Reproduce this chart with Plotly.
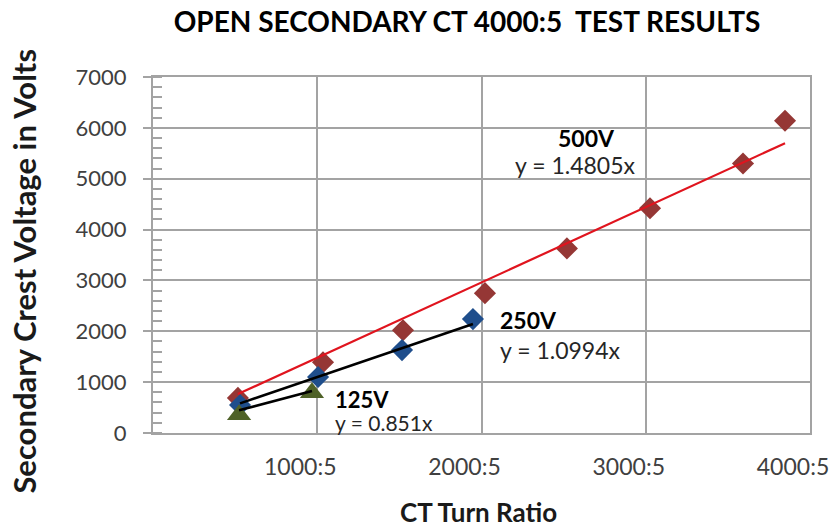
import plotly.graph_objects as go

# ---- data ----
x_500 = [517, 1035, 1522, 2021, 2520, 3026, 3592, 3848]
y_500 = [690, 1390, 2020, 2750, 3630, 4420, 5300, 6140]

x_250 = [530, 1005, 1516, 1948]
y_250 = [550, 1100, 1630, 2240]

x_125 = [524, 968]
y_125 = [360, 790]

slope_500 = 1.4805
slope_250 = 1.0994
slope_125 = 0.851

x_tick_vals = [1000, 2000, 3000, 4000]
x_tick_text = ["1000:5", "2000:5", "3000:5", "4000:5"]

series_labels = ["500V", "250V", "125V"]

RED = "#953735"
BLUE = "#1F4E8C"
GREEN = "#4F6228"
GRID = "#A3A3A3"
FONT = "Lato"

fig = go.Figure()

# markers
fig.add_trace(go.Scatter(x=x_500, y=y_500, mode="markers", name=series_labels[0],
                         marker=dict(symbol="diamond", size=17, color=RED, line=dict(width=0))))
fig.add_trace(go.Scatter(x=x_250, y=y_250, mode="markers", name=series_labels[1],
                         marker=dict(symbol="diamond", size=17, color=BLUE, line=dict(width=0))))
fig.add_trace(go.Scatter(x=x_125, y=y_125, mode="markers", name=series_labels[2],
                         marker=dict(symbol="triangle-up", size=21, color=GREEN, line=dict(width=0))))

# linear trendlines through origin
def trend(xs, k):
    xa = [min(xs), max(xs)]
    return xa, [k * v for v in xa]

tx, ty = trend(x_500, slope_500)
fig.add_trace(go.Scatter(x=tx, y=ty, mode="lines", line=dict(color="#E0141E", width=2.2)))
tx, ty = trend(x_250, slope_250)
fig.add_trace(go.Scatter(x=tx, y=ty, mode="lines", line=dict(color="black", width=2.6)))
tx, ty = trend(x_125, slope_125)
fig.add_trace(go.Scatter(x=tx, y=ty, mode="lines", line=dict(color="black", width=2.6)))

annotations = [
    dict(x=2642, y=5810, xref="x", yref="y", text="<b>" + series_labels[0] + "</b>", showarrow=False,
         xanchor="center", yanchor="middle", font=dict(family=FONT, size=23, color="black")),
    dict(x=2575, y=5270, xref="x", yref="y", text=f"y = {slope_500}x", showarrow=False,
         xanchor="center", yanchor="middle", font=dict(family=FONT, size=23, color="#262626")),
    dict(x=2098, y=2230, xref="x", yref="y", text="<b>" + series_labels[1] + "</b>", showarrow=False,
         xanchor="left", yanchor="middle", font=dict(family=FONT, size=23, color="black")),
    dict(x=2098, y=1640, xref="x", yref="y", text=f"y = {slope_250}x", showarrow=False,
         xanchor="left", yanchor="middle", font=dict(family=FONT, size=23, color="#262626")),
    dict(x=1095, y=665, xref="x", yref="y", text="<b>" + series_labels[2] + "</b>", showarrow=False,
         xanchor="left", yanchor="middle", font=dict(family=FONT, size=22, color="black")),
    dict(x=1095, y=215, xref="x", yref="y", text=f"y = {slope_125}x", showarrow=False,
         xanchor="left", yanchor="middle", font=dict(family=FONT, size=21, color="#262626")),
    # axis titles
    dict(x=0.495, y=-0.222, xref="paper", yref="paper", text="<b>CT Turn Ratio</b>", showarrow=False,
         xanchor="center", yanchor="middle", font=dict(family=FONT, size=26, color="#1a1a1a")),
    dict(x=-0.197, y=0.455, xref="paper", yref="paper", text="<b>Secondary Crest Voltage in Volts</b>",
         showarrow=False, textangle=-90, xanchor="center", yanchor="middle",
         font=dict(family=FONT, size=31, color="#1a1a1a")),
]

fig.update_layout(
    width=836, height=529,
    margin=dict(l=153, r=26, t=77, b=96),
    paper_bgcolor="white", plot_bgcolor="white",
    showlegend=False,
    title=dict(text="<b>OPEN SECONDARY CT 4000:5  TEST RESULTS</b>", x=0.478, xref="paper",
               y=1 - 22 / 529, yref="container", xanchor="center", yanchor="middle",
               font=dict(family=FONT, size=28, color="black")),
    annotations=annotations,
)

fig.update_xaxes(
    range=[0, 4000], tickvals=x_tick_vals, ticktext=x_tick_text,
    showgrid=True, gridcolor=GRID, gridwidth=2,
    showline=True, linecolor=GRID, linewidth=2, mirror=True,
    ticks="", ticklabelshift=-17, ticklabelstandoff=12, automargin=False,
    tickfont=dict(family=FONT, size=23, color="#404040"),
    zeroline=False,
)
fig.update_yaxes(
    range=[0, 7000], dtick=1000,
    showgrid=True, gridcolor=GRID, gridwidth=2,
    showline=True, linecolor=GRID, linewidth=2, mirror=True,
    ticks="outside", ticklen=8, tickwidth=2, tickcolor=GRID, ticklabelstandoff=12, automargin=False,
    minor=dict(ticks="inside", dtick=200, ticklen=9, tickwidth=1.5, tickcolor=GRID, showgrid=False),
    tickfont=dict(family=FONT, size=22, color="#404040"),
    zeroline=False,
)

fig.write_html("out.html", config={"displayModeBar": False},
               post_script="document.body.style.margin='0px';document.body.style.overflow='hidden';")
